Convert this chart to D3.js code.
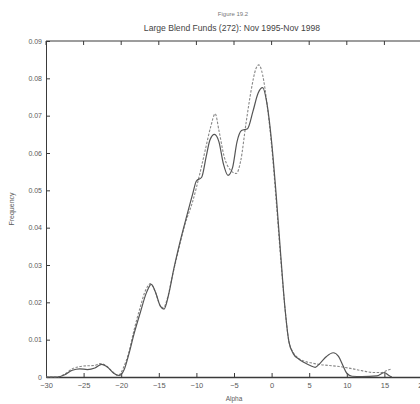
<!DOCTYPE html>
<html>
<head>
<meta charset="utf-8">
<script src="https://cdn.jsdelivr.net/npm/d3@7/dist/d3.min.js"></script>
<style>
  html, body { margin: 0; padding: 0; background: #fff; }
  svg { display: block; font-family: "Liberation Sans", Arial, sans-serif; }
</style>
</head>
<body>
<svg id="chart" width="420" height="404"></svg>
<script>
// Kernel density estimates of fund alpha
const alphaSolid = [-30, -28.5, -27.5, -26.5, -25.5, -24.5, -23.5, -22.6, -21.8, -21, -20.3, -19.6, -19, -18.3, -17.5, -16.6, -16, -15.4, -14.8, -14.3, -13.7, -13, -12.2, -11.3, -10.5, -10, -9.3, -8.7, -8.2, -7.6, -7, -6.4, -5.8, -5.2, -4.6, -4, -3.2, -2.5, -1.8, -1.2, -0.6, 0, 0.6, 1.2, 1.8, 2.3, 2.9, 3.6, 4.4, 5.2, 5.8, 6.5, 7.3, 8.2, 8.9, 9.5, 10, 10.7, 12, 14, 15, 15.6, 16];
const freqSolid = [0, 0, 0.0006, 0.0018, 0.0022, 0.002, 0.0024, 0.0034, 0.0026, 0.001, 0.0004, 0.002, 0.006, 0.0115, 0.017, 0.0228, 0.0248, 0.0225, 0.019, 0.0182, 0.022, 0.029, 0.036, 0.043, 0.049, 0.0525, 0.0535, 0.059, 0.0635, 0.065, 0.063, 0.057, 0.054, 0.056, 0.063, 0.066, 0.0665, 0.071, 0.076, 0.0775, 0.073, 0.063, 0.049, 0.033, 0.018, 0.0095, 0.0062, 0.0048, 0.0038, 0.003, 0.0026, 0.0038, 0.0055, 0.0065, 0.0055, 0.003, 0.001, 0.0002, 0.0001, 0.0003, 0.0012, 0.0004, 0];

const alphaDashed = [-30, -28.5, -27.5, -26.5, -25.5, -24.5, -23.5, -22.8, -22, -21.2, -20.4, -19.7, -19, -18.3, -17.5, -16.7, -16.1, -15.5, -14.9, -14.4, -13.8, -13.2, -12.5, -11.5, -10.5, -9.6, -8.8, -8.1, -7.5, -7, -6.3, -5.5, -4.7, -4.1, -3.4, -2.7, -2.1, -1.7, -1.2, -0.6, 0, 0.6, 1.2, 1.8, 2.3, 2.9, 3.6, 4.4, 5.2, 6.2, 7.5, 9, 10.5, 12, 13.5, 14.6, 15.4, 16];
const freqDashed = [0, 0, 0.0008, 0.0022, 0.0028, 0.003, 0.0031, 0.0036, 0.003, 0.0015, 0.0004, 0.0025, 0.0065, 0.0125, 0.0185, 0.0235, 0.025, 0.023, 0.0195, 0.0185, 0.0215, 0.027, 0.033, 0.041, 0.047, 0.054, 0.061, 0.067, 0.0705, 0.066, 0.059, 0.0555, 0.0545, 0.058, 0.068, 0.077, 0.0825, 0.0836, 0.081, 0.073, 0.062, 0.0475, 0.032, 0.018, 0.0095, 0.0065, 0.005, 0.0042, 0.0038, 0.0034, 0.0031, 0.0028, 0.0023, 0.0017, 0.0012, 0.0012, 0.0018, 0.0022];

const xTicks = [-30, -25, -20, -15, -10, -5, 0, 5, 10, 15, 20];
const yTicks = [0, 0.01, 0.02, 0.03, 0.04, 0.05, 0.06, 0.07, 0.08, 0.09];
const yTickLabels = ["0", "0.01", "0.02", "0.03", "0.04", "0.05", "0.06", "0.07", "0.08", "0.09"];

const figureLabel = "Figure 19.2";
const titleText = "Large Blend Funds (272): Nov 1995-Nov 1998";
const xLabel = "Alpha";
const yLabel = "Frequency";

const svg = d3.select("#chart");
const plotLeft = 46, plotRight = 422, plotTop = 41, plotBottom = 377;

const x = d3.scaleLinear().domain([-30, 20]).range([plotLeft, plotRight]);
const y = d3.scaleLinear().domain([0, 0.09]).range([plotBottom, plotTop]);

const axisColor = "#3a3a3a";
const textColor = "#5a5a5a";

// frame: top and right edges with inward ticks
svg.append("line").attr("x1", plotLeft).attr("x2", plotRight).attr("y1", plotTop).attr("y2", plotTop)
  .attr("stroke", axisColor).attr("stroke-width", 1);
svg.append("line").attr("x1", plotRight).attr("x2", plotRight).attr("y1", plotTop).attr("y2", plotBottom)
  .attr("stroke", axisColor).attr("stroke-width", 1);
svg.append("g").selectAll("line").data(xTicks).join("line")
  .attr("x1", d => x(d)).attr("x2", d => x(d)).attr("y1", plotTop).attr("y2", plotTop + 4)
  .attr("stroke", axisColor);

// bottom axis
const gx = svg.append("g").attr("transform", `translate(0,${plotBottom})`)
  .call(d3.axisBottom(x).tickValues(xTicks).tickSizeInner(-4).tickSizeOuter(0).tickPadding(6));
gx.select(".domain").attr("stroke", axisColor).attr("stroke-width", 1.4);
gx.selectAll(".tick line").attr("stroke", axisColor);
gx.selectAll(".tick text").attr("fill", textColor).attr("font-size", 7.5).attr("font-family", "Liberation Sans, Arial, sans-serif");

// left axis
const gy = svg.append("g").attr("transform", `translate(${plotLeft},0)`)
  .call(d3.axisLeft(y).tickValues(yTicks).tickFormat((d, i) => yTickLabels[i])
    .tickSizeInner(-4).tickSizeOuter(0).tickPadding(4));
gy.select(".domain").attr("stroke", axisColor).attr("stroke-width", 1);
gy.selectAll(".tick line").attr("stroke", axisColor);
gy.selectAll(".tick text").attr("fill", textColor).attr("font-size", 7).attr("font-family", "Liberation Sans, Arial, sans-serif");

// density curves
const line = d3.line().x(d => x(d[0])).y(d => y(d[1])).curve(d3.curveMonotoneX);

svg.append("path")
  .datum(d3.zip(alphaDashed, freqDashed))
  .attr("d", line)
  .attr("fill", "none")
  .attr("stroke", "#888")
  .attr("stroke-width", 1.1)
  .attr("stroke-dasharray", "2.5,1.5");

svg.append("path")
  .datum(d3.zip(alphaSolid, freqSolid))
  .attr("d", line)
  .attr("fill", "none")
  .attr("stroke", "#555")
  .attr("stroke-width", 1.2);

// titles
svg.append("text").attr("x", 233).attr("y", 16).attr("text-anchor", "middle")
  .attr("font-size", 6).attr("fill", "#777").text(figureLabel);
svg.append("text").attr("x", 232).attr("y", 31).attr("text-anchor", "middle")
  .attr("font-size", 8.6).attr("fill", "#444").text(titleText);
svg.append("text").attr("x", x(-5)).attr("y", 401).attr("text-anchor", "middle")
  .attr("font-size", 6.5).attr("fill", textColor).text(xLabel);
svg.append("text").attr("transform", `translate(14,${(plotTop + plotBottom) / 2}) rotate(-90)`)
  .attr("text-anchor", "middle").attr("font-size", 7).attr("fill", textColor).text(yLabel);
</script>
</body>
</html>
